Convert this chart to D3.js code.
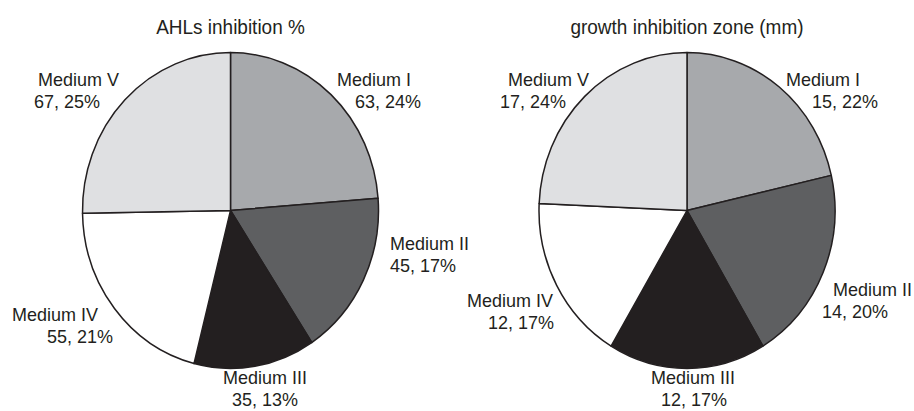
<!DOCTYPE html>
<html>
<head>
<meta charset="utf-8">
<script src="https://cdn.jsdelivr.net/npm/d3@7"></script>
<style>
  html, body { margin: 0; padding: 0; background: #ffffff; }
  svg { display: block; }
  text { font-family: "Liberation Sans", Arial, Helvetica, sans-serif; fill: #231f20; }
</style>
</head>
<body>
<svg id="chart" width="914" height="411"></svg>
<script>
// ---- data ----
const categories = ["Medium I", "Medium II", "Medium III", "Medium IV", "Medium V"];
const titles = ["AHLs inhibition %", "growth inhibition zone (mm)"];
const ahlValues = [63, 45, 35, 55, 67];
const growthValues = [15, 14, 12, 12, 17];
const ahlPercents = ["24%", "17%", "13%", "21%", "25%"];
const growthPercents = ["22%", "20%", "17%", "17%", "24%"];

// ---- layout / style ----
const colors = ["#a7a9ac", "#5e5f61", "#231f20", "#ffffff", "#dfe0e2"];
const stretchY = 1.067;
const radius = 148;
const lineGap = 22;
const pies = [
  { cx: 230.5, cy: 210.5, values: ahlValues, pct: ahlPercents, titleY: 34,
    labels: [[337, 86, 355], [390, 250, 390], [223, 384, 232], [12, 321, 47], [38, 86, 34]] },
  { cx: 687, cy: 210.5, values: growthValues, pct: growthPercents, titleY: 34,
    labels: [[786, 86, 812], [833, 296, 822], [651, 384, 661], [467, 307, 488], [508, 86, 500]] }
];

const svg = d3.select("#chart");
const pie = d3.pie().sort(null).value(d => d);
const arc = d3.arc().innerRadius(0).outerRadius(radius);

pies.forEach((p, pi) => {
  // title
  svg.append("text")
    .attr("transform", `translate(${p.cx},${p.titleY}) scale(1,${stretchY})`)
    .attr("text-anchor", "middle")
    .style("font-size", "19px")
    .text(titles[pi]);

  const g = svg.append("g")
    .attr("transform", `translate(${p.cx},${p.cy}) scale(1,${stretchY})`);

  const arcs = pie(p.values);
  g.selectAll("path")
    .data(arcs)
    .join("path")
    .attr("d", arc)
    .attr("fill", (d, i) => colors[i])
    .attr("stroke", "#231f20")
    .attr("stroke-width", 1.5)
    .attr("stroke-linejoin", "round")
    .attr("vector-effect", "non-scaling-stroke");

  arcs.forEach((d, i) => {
    const L = p.labels[i];
    svg.append("text")
      .attr("transform", `translate(${L[0]},${L[1]}) scale(1,${stretchY})`)
      .style("font-size", "18px")
      .text(categories[i]);
    svg.append("text")
      .attr("transform", `translate(${L[2]},${L[1] + lineGap}) scale(1,${stretchY})`)
      .style("font-size", "18px")
      .text(`${p.values[i]}, ${p.pct[i]}`);
  });
});
</script>
</body>
</html>
